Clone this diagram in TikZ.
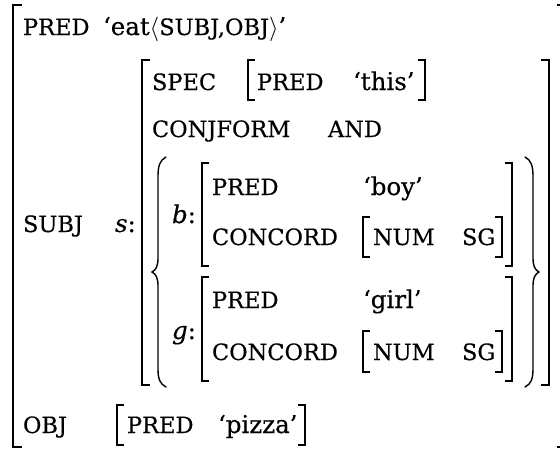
\RequirePackage{fix-cm}
\documentclass[tikz,border=0pt]{standalone}
\usepackage{fontspec}
\setmainfont{DejaVu Serif}[FakeBold=0.4]
\newcommand\fsc[1]{{\fontsize{22.5}{26}\selectfont #1}}
\begin{document}
\begin{tikzpicture}[x=1pt,y=-1pt,
  txt/.style={anchor=base west,inner sep=0pt,outer sep=0pt,font=\fontsize{24.5}{29}\selectfont},
  brk/.style={line width=1.5pt,line cap=butt,line join=miter},
  obrk/.style={line width=1.8pt,line cap=butt,line join=miter},
  brc/.style={line width=1.4pt,line cap=round}]
\useasboundingbox (0,0) rectangle (560,451);
\clip (0,0) rectangle (560,451);

% outer brackets
\draw[obrk] (22,5) -- (13,5) -- (13,447) -- (22,447);
\draw[obrk] (557,5) -- (566,5) -- (566,447) -- (557,447);

% row PRED
\node[txt] (pred1) at (23,35) {\fsc{PRED}};
\node[txt] (eat) at (103,35) {‘eat$\langle$\fsc{SUBJ,OBJ}$\rangle$’};

% SUBJ row
\node[txt] (subj) at (23,232) {\fsc{SUBJ}};
\node[txt] (s) at (115,232) {\textit{s}:};
\draw[brk] (150,60) -- (142,60) -- (142,385) -- (150,385);
\draw[brk] (541,60) -- (549,60) -- (549,385) -- (541,385);

% SPEC
\node[txt] (spec) at (152,90) {\fsc{SPEC}};
\draw[brk] (255,60) -- (248,60) -- (248,100) -- (255,100);
\node[txt] (pred2) at (257,90) {\fsc{PRED}};
\node[txt] (this) at (353,90) {‘this’};
\draw[brk] (418,60) -- (425,60) -- (425,100) -- (418,100);

% CONJFORM
\node[txt] (conjform) at (152,137) {\fsc{CONJFORM}};
\node[txt] (and) at (328,137) {\fsc{AND}};

% braces
\draw[brc] (166,157) .. controls (160,160) and (158,166) .. (158,176) -- (158,258)
  .. controls (158,266) and (156,270) .. (152,272)
  .. controls (156,274) and (158,278) .. (158,286) -- (158,369)
  .. controls (158,379) and (160,384) .. (166,387);
\draw[brc] (525,157) .. controls (531,160) and (533,166) .. (533,176) -- (533,258)
  .. controls (533,266) and (535,270) .. (539,272)
  .. controls (535,274) and (533,278) .. (533,286) -- (533,369)
  .. controls (533,379) and (531,384) .. (525,387);

% b
\node[txt] (b) at (172,223) {\textit{b}:};
\draw[brk] (209,163) -- (202,163) -- (202,266) -- (209,266);
\draw[brk] (505,163) -- (512,163) -- (512,266) -- (505,266);
\node[txt] (pred3) at (212,195) {\fsc{PRED}};
\node[txt] (boy) at (363,195) {‘boy’};
\node[txt] (concord1) at (212,245) {\fsc{CONCORD}};
\draw[brk] (370,217) -- (363,217) -- (363,257) -- (370,257);
\node[txt] (num1) at (373,245) {\fsc{NUM}};
\node[txt] (sg1) at (462,245) {\fsc{SG}};
\draw[brk] (495,217) -- (502,217) -- (502,257) -- (495,257);

% g
\node[txt] (g) at (172,339) {\textit{g}:};
\draw[brk] (209,277) -- (202,277) -- (202,381) -- (209,381);
\draw[brk] (505,277) -- (512,277) -- (512,381) -- (505,381);
\node[txt] (pred4) at (212,308) {\fsc{PRED}};
\node[txt] (girl) at (363,308) {‘girl’};
\node[txt] (concord2) at (212,360) {\fsc{CONCORD}};
\draw[brk] (370,331) -- (363,331) -- (363,372) -- (370,372);
\node[txt] (num2) at (373,360) {\fsc{NUM}};
\node[txt] (sg2) at (462,360) {\fsc{SG}};
\draw[brk] (495,331) -- (502,331) -- (502,372) -- (495,372);

% OBJ
\node[txt] (obj) at (23,433) {\fsc{OBJ}};
\draw[brk] (124,405) -- (117,405) -- (117,445) -- (124,445);
\node[txt] (pred5) at (127,433) {\fsc{PRED}};
\node[txt] (pizza) at (218,433) {‘pizza’};
\draw[brk] (298,405) -- (305,405) -- (305,445) -- (298,445);
\end{tikzpicture}
\end{document}
